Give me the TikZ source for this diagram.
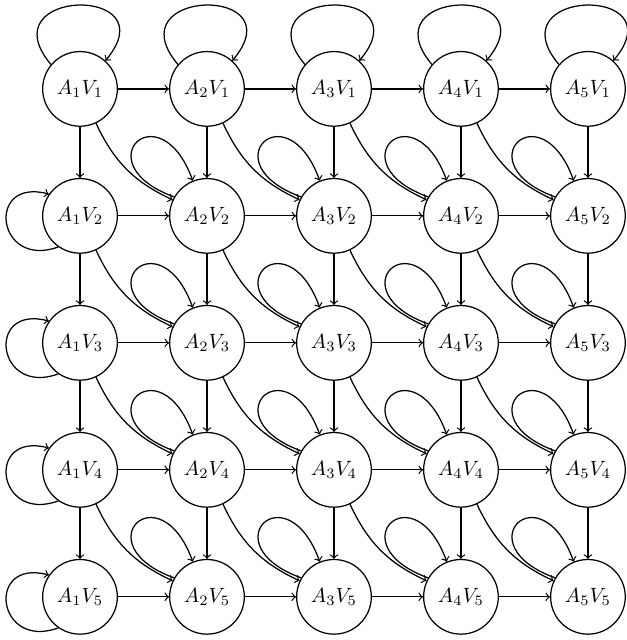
\documentclass[tikz,border=0pt]{standalone}
\begin{document}
\begin{tikzpicture}[x=2.16cm,y=2.16cm,semithick,
  state/.style={circle,draw,minimum size=1.27cm,inner sep=0pt},
  toploop/.style={out=130,in=50,distance=1.7cm},
  leftloop/.style={out=200,in=165,distance=1.12cm},
  innerloop/.style={out=160,in=110,distance=1.65cm}]
\useasboundingbox (0.37,-0.30) rectangle (5.30,-5.34);
% states
\foreach \i in {1,...,5}
  \foreach \j in {1,...,5}
    \node[state] (n\i\j) at (\i,-\j) {$A_\i V_\j$};
% moves right, down and across
\foreach \i/\k in {1/2,2/3,3/4,4/5}
  \foreach \j in {1,...,5}
    \draw[->] (n\i\j) -- (n\k\j);
\foreach \i in {1,...,5}
  \foreach \j/\l in {1/2,2/3,3/4,4/5}
    \draw[->] (n\i\j) -- (n\i\l);
\foreach \i/\k in {1/2,2/3,3/4,4/5}
  \foreach \j/\l in {1/2,2/3,3/4,4/5}
    \draw[->] (n\i\j) to[bend right=20] (n\k\l);
% self loops
\foreach \i in {1,...,5}
  \draw[->] (n\i1.140) to[toploop] (n\i1.48);
\foreach \j in {2,...,5}
  \draw[->] (n1\j.235) to[leftloop] (n1\j.145);
\foreach \i in {2,...,5}
  \foreach \j in {2,...,5}
    \draw[->] (n\i\j.150) to[innerloop] (n\i\j.112);
\end{tikzpicture}
\end{document}
